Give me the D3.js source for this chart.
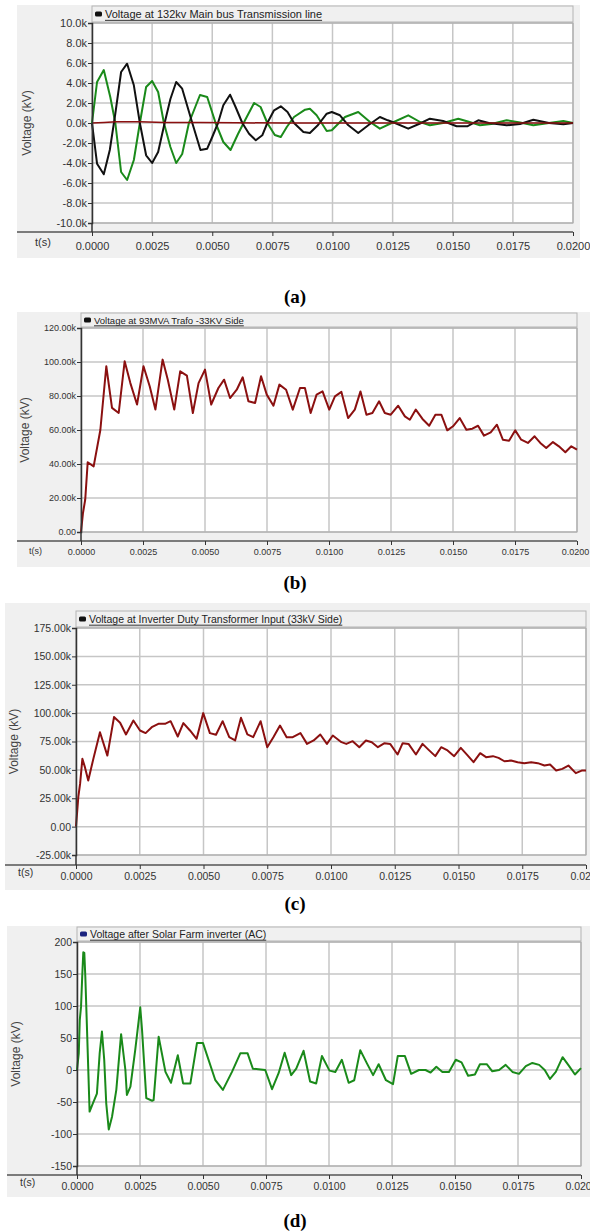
<!DOCTYPE html>
<html>
<head>
<meta charset="utf-8">
<script src="https://cdn.jsdelivr.net/npm/d3@7"></script>
<style>
  body { margin: 0; background: #fff; }
  svg { display: block; font-family: "Liberation Sans", Arial, sans-serif; }
</style>
</head>
<body>
<div id="chart"></div>
<script>
// time in ms, voltage in k (thousands) except panel d

// x ticks shared by all four panels (seconds)
var timeTicks = [0, 0.0025, 0.005, 0.0075, 0.01, 0.0125, 0.015, 0.0175, 0.02];

// (a) 132kv main bus, three phases
var aTicks = [-10, -8, -6, -4, -2, 0, 2, 4, 6, 8, 10];
var aGreen = [[0,0],[0.21,4.1],[0.49,5.3],[0.76,2.6],[0.97,0],[1.21,-4.9],[1.46,-5.7],[1.74,-3.7],[1.99,0],
  [2.25,3.6],[2.5,4.2],[2.75,3.1],[2.99,0],[3.26,-2.4],[3.5,-4.0],[3.75,-3.1],[4.03,0],[4.49,2.8],[4.79,2.6],
  [5.14,0],[5.46,-1.9],[5.76,-2.7],[6.07,-1.1],[6.39,0.4],[6.74,2.0],[7.01,1.6],[7.29,0],[7.6,-1.2],[7.85,-1.4],
  [8.1,-0.4],[8.4,0.6],[8.86,1.33],[9.06,1.43],[9.34,0.77],[9.76,-0.8],[9.97,-0.73],[10.52,0.6],[11.07,1.1],
  [11.56,0.1],[11.97,-0.57],[12.46,0],[13.15,0.77],[13.64,0.1],[14.05,-0.23],[14.6,0],[15.23,0.43],[15.7,0.1],
  [16.13,-0.23],[16.6,-0.1],[17.24,0.27],[17.8,0.05],[18.35,-0.23],[19.0,0],[19.6,0.2],[20,0]];
var aBlack = [[0,0],[0.21,-4.07],[0.49,-5.13],[0.74,-2.7],[0.97,0.93],[1.21,5.1],[1.46,5.93],[1.74,3.77],[1.99,0],
  [2.25,-3.23],[2.5,-4.0],[2.75,-2.9],[3.02,0],[3.26,2.4],[3.5,4.1],[3.75,3.43],[4.17,0],[4.51,-2.7],[4.79,-2.57],
  [5.0,-1.4],[5.24,0],[5.46,1.77],[5.74,2.83],[5.97,1.6],[6.25,0],[6.53,-1.07],[6.81,-1.73],[7.08,-1.23],[7.29,0],
  [7.57,1.27],[7.85,1.67],[8.13,1.1],[8.4,0],[8.79,-0.9],[9.06,-1.0],[9.4,-0.2],[9.76,0.93],[9.97,1.1],[10.31,0.77],
  [10.66,-0.23],[11.07,-1.0],[11.5,-0.2],[11.97,0.6],[12.3,0.27],[12.6,0],[13.15,-0.57],[13.64,-0.05],[14.05,0.43],
  [14.6,0.2],[15.16,-0.33],[15.6,-0.33],[16.06,0.27],[16.5,0],[17.24,-0.23],[17.8,-0.1],[18.35,0.33],[19.0,0],
  [19.6,-0.13],[20,0]];
var aRed = [[0,0],[0.5,0.05],[1.0,0.12],[2.0,0.12],[3.0,0.06],[4.5,0.06],[6,0.02],[8,0],[20,0]];

// (b) 93MVA trafo, 33KV side
var bTicks = [0, 20, 40, 60, 80, 100, 120];
var bData = [[0,0],[0.08,11.2],[0.17,19],[0.27,41],[0.51,38.6],[0.78,60],[1.02,97.5],[1.25,73],[1.52,70],
  [1.76,100.4],[1.99,87.6],[2.26,75],[2.52,97.5],[2.77,85.7],[3.0,72],[3.29,101.4],[3.5,89.6],[3.76,72],[4.0,94.5],
  [4.27,92],[4.51,70],[4.74,87.6],[5.0,95.5],[5.25,75],[5.54,84.7],[5.77,89.6],[6.01,78.8],[6.28,83.7],[6.52,91],
  [6.75,76.9],[7.02,75.9],[7.26,91.6],[7.49,80.8],[7.76,74.3],[8.0,86.7],[8.27,83.7],[8.54,72],[8.83,84.7],
  [9.03,84.7],[9.26,70],[9.5,80.8],[9.74,82.7],[10.01,72],[10.24,79.8],[10.5,82.4],[10.77,67],[11.04,72],
  [11.27,82.7],[11.51,69],[11.75,70],[12.02,76.9],[12.25,70],[12.49,69],[12.79,74.3],[13.06,68],[13.26,66],
  [13.5,72],[13.77,66.5],[14.04,62.5],[14.29,69],[14.53,69],[14.77,59.8],[15.0,62.2],[15.27,67],[15.54,60.2],
  [15.78,60.8],[16.01,62.5],[16.25,56.7],[16.52,58.6],[16.77,63.1],[17.01,54.3],[17.26,53.7],[17.51,59.8],
  [17.75,54.3],[18.02,52.4],[18.29,56.3],[18.52,52.4],[18.76,49.4],[19.03,52.9],[19.27,50.4],[19.53,46.9],
  [19.77,50.4],[20.0,48.4]];

// (c) inverter duty transformer input
var cTicks = [-25, 0, 25, 50, 75, 100, 125, 150, 175];
var cData = [[0,0],[0.09,25.9],[0.16,37.6],[0.25,59.7],[0.35,52.4],[0.48,40.6],[0.68,59.7],[0.94,83.2],[1.23,62.6],
  [1.49,96.5],[1.73,91.5],[1.96,81.2],[2.25,93.5],[2.51,84.7],[2.73,82.4],[2.97,87.6],[3.23,90.6],[3.49,90.6],
  [3.71,92.9],[3.99,79.4],[4.21,91.2],[4.47,84.7],[4.73,77.4],[4.99,100],[5.25,82.4],[5.49,80.9],[5.75,92.9],
  [6.01,78.8],[6.24,75.9],[6.47,95.9],[6.72,81.2],[6.95,78.8],[7.24,92.9],[7.5,70],[7.74,78.8],[8.0,89.1],
  [8.26,78.8],[8.5,78.8],[8.8,82.4],[9.06,72.9],[9.32,75.9],[9.58,81.2],[9.84,72.9],[10.07,80.3],[10.41,74.4],
  [10.6,72.9],[10.85,75.3],[11.11,70],[11.37,75.9],[11.6,74.4],[11.84,70],[12.1,73.5],[12.32,72.9],[12.61,63.5],
  [12.81,73.5],[13.04,72.9],[13.33,63.5],[13.59,72.9],[13.83,67.6],[14.09,62.1],[14.32,70],[14.57,67.1],
  [14.83,62.1],[15.09,69.4],[15.33,63.5],[15.59,56.8],[15.85,64.7],[16.08,61.2],[16.35,62.1],[16.57,60.6],
  [16.8,57.6],[17.06,58.2],[17.32,56.8],[17.58,55.9],[17.85,56.8],[18.11,55.9],[18.37,53.8],[18.59,54.7],
  [18.83,49.4],[19.07,50.9],[19.31,53.8],[19.6,47.1],[19.83,49.4],[20,49.4]];

// (d) after solar farm inverter (AC)
var dTicks = [-150, -100, -50, 0, 50, 100, 150, 200];
var dData = [[0,0],[0.07,26],[0.11,78],[0.16,99],[0.21,149],[0.25,184],[0.29,183],[0.33,146],[0.4,60],[0.5,-65],
  [0.63,-52],[0.79,-37],[0.9,26],[0.99,60],[1.08,16],[1.16,-52],[1.26,-93],[1.39,-73],[1.56,-31],[1.75,56],
  [1.92,0],[1.98,-39],[2.12,-26],[2.31,31],[2.51,98],[2.58,63],[2.75,-44],[2.98,-48],[3.04,-47],[3.24,52],
  [3.51,-3],[3.73,-20],[4.0,23],[4.21,-21],[4.5,-21],[4.76,42],[5.0,42],[5.49,-16],[5.79,-31],[6.15,-3],[6.48,26],
  [6.77,26],[6.98,2],[7.47,0],[7.74,-30],[8.0,-5],[8.24,27],[8.5,-8],[8.7,2],[8.99,30],[9.25,-18],[9.49,-21],
  [9.72,22],[10.02,-1],[10.25,-3],[10.51,16],[10.78,-20],[11.0,-16],[11.24,31],[11.51,10],[11.75,-8],[11.97,9],
  [12.26,-16],[12.54,-22],[12.73,22],[13.01,22],[13.26,-6],[13.57,0],[13.83,0],[14.03,-4],[14.26,5],[14.5,-3],
  [14.76,-3],[15.03,16],[15.26,12],[15.52,-9],[15.79,-7],[15.99,9],[16.26,9],[16.48,-2],[16.75,0],[17.01,8],
  [17.28,-3],[17.54,-6],[17.81,6],[18.07,11],[18.34,8],[18.56,0],[18.77,-14],[19.0,-3],[19.27,20],[19.53,6],
  [19.76,-7],[20,3]];

var svg = d3.select("#chart").append("svg")
    .attr("width", 590)
    .attr("height", 1232);

// layout of each panel
var panels = [
  {name: "(a)", capY: 303, bg: [17, 5, 563, 253], left: 92, right: 573, top: 23, bottom: 223,
   titleTop: 6, title: "Voltage at 132kv Main bus Transmission line", titleSize: 11, marker: "#111",
   axisY: 232, tickPad: 6, font: 11, yLabelX: 27, tLabel: [35, 246], tSize: 11, lastShift: 0,
   yDomain: [-10, 10], yTicks: aTicks, fmt: function(d) { return d.toFixed(1) + "k"; },
   series: [{data: aGreen, color: "#1a8a1a"}, {data: aBlack, color: "#111"}, {data: aRed, color: "#8b1010", w: 1.5}]},
  {name: "(b)", capY: 589, bg: [17, 312, 573, 255], left: 81, right: 577, top: 328, bottom: 532,
   titleTop: 313, title: "Voltage at 93MVA Trafo -33KV Side", titleSize: 9.5, marker: "#111",
   axisY: 541, tickPad: 4, font: 9, yLabelX: 25, tLabel: [29, 554], tSize: 9, lastShift: -2,
   yDomain: [0, 120], yTicks: bTicks, fmt: function(d) { return d === 0 ? "0.00" : d.toFixed(2) + "k"; },
   series: [{data: bData, color: "#8b1010"}]},
  {name: "(c)", capY: 910, bg: [5, 603, 585, 287], left: 76, right: 586, top: 628, bottom: 855,
   titleTop: 611, title: "Voltage at Inverter Duty Transformer Input (33kV Side)", titleSize: 10.5, marker: "#111",
   axisY: 865, tickPad: 4, font: 10.5, yLabelX: 14, tLabel: [18, 876], tSize: 10.5, lastShift: 0,
   yDomain: [-25, 175], yTicks: cTicks, fmt: function(d) { return d === 0 ? "0.00" : d.toFixed(2) + "k"; },
   series: [{data: cData, color: "#8b1010"}]},
  {name: "(d)", capY: 1227, bg: [7, 926, 583, 271], left: 77, right: 581, top: 942, bottom: 1166,
   titleTop: 927, title: "Voltage after Solar Farm inverter (AC)", titleSize: 10.5, marker: "#1a237e",
   axisY: 1175, tickPad: 4, font: 10.5, yLabelX: 16, tLabel: [20, 1186], tSize: 10.5, lastShift: 0,
   yDomain: [-150, 200], yTicks: dTicks, fmt: function(d) { return String(d); },
   series: [{data: dData, color: "#1a8a1a"}]}
];

panels.forEach(makePanel);

function makePanel(p) {
  var g = svg.append("g");

  // grey window background
  g.append("rect")
      .attr("x", p.bg[0]).attr("y", p.bg[1])
      .attr("width", p.bg[2]).attr("height", p.bg[3])
      .attr("fill", "#f0f0f0");

  var x = d3.scaleLinear().domain([0, 0.02]).range([p.left, p.right]);
  var y = d3.scaleLinear().domain(p.yDomain).range([p.bottom, p.top]);

  // plot area
  g.append("rect")
      .attr("x", p.left).attr("y", p.top)
      .attr("width", p.right - p.left).attr("height", p.bottom - p.top)
      .attr("fill", "#fff");

  // grid
  g.selectAll(".vgrid").data(timeTicks).enter().append("line")
      .attr("x1", function(d) { return x(d); }).attr("x2", function(d) { return x(d); })
      .attr("y1", p.top).attr("y2", p.bottom)
      .attr("stroke", "#c6c6c6").attr("stroke-width", 1.5);
  g.selectAll(".hgrid").data(p.yTicks).enter().append("line")
      .attr("x1", p.left).attr("x2", p.right)
      .attr("y1", function(d) { return y(d); }).attr("y2", function(d) { return y(d); })
      .attr("stroke", "#c6c6c6").attr("stroke-width", 1.5);

  // frame
  g.append("rect")
      .attr("x", p.left).attr("y", p.top)
      .attr("width", p.right - p.left).attr("height", p.bottom - p.top)
      .attr("fill", "none").attr("stroke", "#a8a8a8");

  // title bar with legend marker
  g.append("rect")
      .attr("x", p.left).attr("y", p.titleTop)
      .attr("width", p.right - p.left).attr("height", p.top - p.titleTop - 1)
      .attr("fill", "#f0f0f0").attr("stroke", "#b4b4b4");
  var mid = (p.titleTop + p.top) / 2;
  g.append("rect")
      .attr("x", p.left + 3).attr("y", mid - 3)
      .attr("width", 7).attr("height", 5).attr("rx", 1.5)
      .attr("fill", p.marker);
  var title = g.append("text")
      .attr("x", p.left + 13).attr("y", mid + p.titleSize * 0.35)
      .attr("font-size", p.titleSize).attr("fill", "#222")
      .text(p.title);
  var tw = title.node().getComputedTextLength();
  g.append("line")
      .attr("x1", p.left + 13).attr("x2", p.left + 13 + tw)
      .attr("y1", mid + p.titleSize * 0.35 + 2).attr("y2", mid + p.titleSize * 0.35 + 2)
      .attr("stroke", "#333").attr("stroke-width", 1);

  // traces
  var line = d3.line()
      .x(function(d) { return x(d[0] / 1000); })
      .y(function(d) { return y(d[1]); });
  p.series.forEach(function(s) {
    g.append("path")
        .datum(s.data)
        .attr("d", line)
        .attr("fill", "none")
        .attr("stroke", s.color)
        .attr("stroke-width", s.w || 2)
        .attr("stroke-linejoin", "round");
  });

  // y axis
  var yAxis = d3.axisLeft(y).tickValues(p.yTicks).tickFormat(p.fmt).tickSize(4).tickPadding(1);
  var ya = g.append("g")
      .attr("transform", "translate(" + p.left + ",0)")
      .call(yAxis);
  ya.select(".domain").attr("stroke", "#333").attr("stroke-width", 1.5);
  ya.selectAll(".tick line").attr("stroke", "#333");
  ya.selectAll("text").attr("font-size", p.font).attr("fill", "#333")
      .attr("font-family", "'Liberation Sans', Arial, sans-serif");

  // x axis strip
  g.append("line")
      .attr("x1", p.bg[0]).attr("x2", p.right)
      .attr("y1", p.axisY).attr("y2", p.axisY)
      .attr("stroke", "#555").attr("stroke-width", 1.5);
  g.append("line")
      .attr("x1", p.left).attr("x2", p.left)
      .attr("y1", p.bottom).attr("y2", p.axisY)
      .attr("stroke", "#333").attr("stroke-width", 1.5);
  var xAxis = d3.axisBottom(x).tickValues(timeTicks).tickFormat(d3.format(".4f"))
      .tickSize(4).tickPadding(p.tickPad);
  var xa = g.append("g")
      .attr("transform", "translate(0," + p.axisY + ")")
      .call(xAxis);
  xa.select(".domain").remove();
  xa.selectAll(".tick line").attr("stroke", "#333");
  xa.selectAll("text").attr("font-size", p.font).attr("fill", "#333")
      .attr("font-family", "'Liberation Sans', Arial, sans-serif");
  xa.selectAll(".tick text").filter(function(d) { return d === 0.02; })
      .attr("dx", p.lastShift);

  g.append("text")
      .attr("x", p.tLabel[0]).attr("y", p.tLabel[1])
      .attr("font-size", p.tSize).attr("fill", "#333")
      .text("t(s)");

  // y label
  g.append("text")
      .attr("transform", "translate(" + p.yLabelX + "," + ((p.top + p.bottom) / 2) + ") rotate(-90)")
      .attr("text-anchor", "middle").attr("dy", "0.35em")
      .attr("font-size", 12).attr("fill", "#444")
      .text("Voltage (kV)");

  // panel caption
  svg.append("text")
      .attr("x", 295).attr("y", p.capY)
      .attr("text-anchor", "middle")
      .attr("font-family", "'Liberation Serif', 'DejaVu Serif', serif")
      .attr("font-weight", "bold").attr("font-size", 19)
      .attr("fill", "#000")
      .text(p.name);
}
</script>
</body>
</html>
